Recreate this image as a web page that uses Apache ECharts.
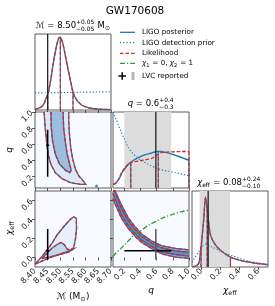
<!DOCTYPE html>
<html><head><meta charset="utf-8">
<script src="https://cdn.jsdelivr.net/npm/echarts@6/dist/echarts.min.js"></script>
<style>html,body{margin:0;padding:0;background:#fff}#c{width:275px;height:306px}</style>
</head><body><div id="c"></div>
<script>
// ---------------- data ----------------
const mcTicks = [8.40, 8.45, 8.50, 8.55, 8.60, 8.65, 8.70];
const qTicks = [0.2, 0.4, 0.6, 0.8, 1.0];
const chiTicks = [0.0, 0.2, 0.4, 0.6];
const mcRange = [8.40, 8.70];
const qRange = [0.06, 1.0];
const chiRange = [-0.1, 0.7];

// Mc 1D
const mcGrid = [8.40, 8.42, 8.433, 8.446, 8.4525, 8.462, 8.472, 8.483, 8.492, 8.499, 8.508, 8.518, 8.531, 8.545, 8.551, 8.565, 8.584, 8.61, 8.644, 8.70];
const mcPosterior = [0.01, 0.03, 0.066, 0.175, 0.228, 0.395, 0.614, 0.812, 0.93, 0.957, 0.90, 0.746, 0.526, 0.307, 0.22, 0.13, 0.066, 0.03, 0.013, 0.004];
const mcLikelihood = [0.01, 0.03, 0.066, 0.175, 0.228, 0.395, 0.614, 0.812, 0.93, 0.957, 0.90, 0.746, 0.526, 0.307, 0.22, 0.13, 0.066, 0.03, 0.013, 0.004];
const mcPriorGrid = [8.40, 8.55, 8.70];
const mcPrior = [0.225, 0.232, 0.24];
const mcQuantiles = [8.45, 8.50, 8.55];

// q 1D
const qGrid = [0.06, 0.08, 0.1, 0.14, 0.17, 0.21, 0.25, 0.3, 0.375, 0.45, 0.5, 0.55, 0.6, 0.65, 0.71, 0.77, 0.83, 0.9, 1.0];
const qPosterior = [0.05, 0.055, 0.07, 0.13, 0.2, 0.26, 0.31, 0.355, 0.40, 0.435, 0.45, 0.465, 0.48, 0.48, 0.468, 0.452, 0.43, 0.405, 0.365];
const qLikelihood = [0.05, 0.055, 0.07, 0.14, 0.21, 0.27, 0.32, 0.34, 0.355, 0.37, 0.38, 0.395, 0.43, 0.465, 0.47, 0.475, 0.477, 0.48, 0.48];
const qPriorGrid = [0.06, 0.07, 0.1, 0.13, 0.16, 0.19, 0.25, 0.3, 0.35, 0.42, 0.5, 0.58, 0.66, 0.75, 0.84, 0.92, 1.0];
const qPrior = [1.0, 0.97, 0.9, 0.82, 0.74, 0.67, 0.53, 0.46, 0.41, 0.355, 0.31, 0.27, 0.24, 0.22, 0.20, 0.18, 0.16];
const qQuantiles = [0.28, 0.62, 1.0];

// chi_eff 1D
const chiGrid = [-0.1, -0.063, -0.028, -0.01, 0.007, 0.024, 0.042, 0.055, 0.07, 0.095, 0.147, 0.218, 0.305, 0.43, 0.57, 0.7];
const chiPosterior = [0.005, 0.01, 0.05, 0.2, 0.4, 0.64, 0.92, 0.82, 0.64, 0.42, 0.29, 0.2, 0.13, 0.08, 0.05, 0.03];
const chiLikelihood = [0.005, 0.01, 0.05, 0.2, 0.4, 0.64, 0.92, 0.82, 0.64, 0.42, 0.29, 0.2, 0.13, 0.08, 0.05, 0.03];
const chiPriorGrid = [-0.1, -0.09, -0.03, 0.04, 0.1, 0.18, 0.25, 0.32, 0.46, 0.58, 0.7];
const chiPrior = [0.06, 0.08, 0.2, 0.3, 0.27, 0.22, 0.18, 0.15, 0.09, 0.055, 0.035];
const chiQuantiles = [-0.005, 0.06, 0.305];

// LVC reported
const lvcMc = 8.45, lvcMcLo = 8.444, lvcMcHi = 8.456;
const lvcQ = 0.59, lvcQLo = 0.2, lvcQHi = 0.78;
const lvcChi = 0.07, lvcChiLo = -0.02, lvcChiHi = 0.30;

// 2D contours: Mc - q
const mcqOuter = [[8.436,1.0],[8.44,0.81],[8.447,0.60],[8.453,0.46],[8.463,0.35],[8.48,0.25],[8.507,0.175],[8.54,0.125],[8.58,0.105],[8.60,0.105],[8.593,0.138],[8.573,0.209],[8.56,0.29],[8.549,0.416],[8.541,0.56],[8.536,0.73],[8.533,0.90],[8.533,1.0]];
const mcqInner = [[8.463,1.0],[8.464,0.81],[8.469,0.646],[8.48,0.479],[8.497,0.354],[8.52,0.279],[8.537,0.25],[8.543,0.279],[8.537,0.354],[8.527,0.479],[8.519,0.646],[8.513,0.81],[8.511,1.0]];
const mcqIsland = [[8.643, 0.085]];
// Mc - chi
const mccOuter = [[8.40,-0.07],[8.453,-0.008],[8.50,0.037],[8.533,0.066],[8.553,0.103],[8.56,0.202],[8.564,0.307],[8.563,0.413],[8.553,0.429],[8.537,0.395],[8.513,0.324],[8.487,0.237],[8.467,0.149],[8.447,0.079],[8.427,0.009],[8.407,-0.05],[8.40,-0.058]];
const mccInner = [[8.427,-0.011],[8.448,0.047],[8.468,0.10],[8.487,0.137],[8.503,0.158],[8.515,0.137],[8.527,0.089],[8.54,0.076],[8.548,0.084],[8.532,0.055],[8.50,0.032],[8.46,0.007],[8.427,-0.011]];
// q - chi band
const qcQ = [0.06, 0.084, 0.166, 0.25, 0.334, 0.416, 0.541, 0.666, 0.834, 1.0];
const qcOuterUp = [0.82, 0.748, 0.552, 0.415, 0.322, 0.247, 0.172, 0.122, 0.095, 0.08];
const qcOuterLo = [0.62, 0.568, 0.412, 0.305, 0.222, 0.157, 0.092, 0.038, 0.005, -0.01];
const qcInnerUp = [0.765, 0.698, 0.514, 0.385, 0.294, 0.222, 0.15, 0.10, 0.07, 0.055];
const qcInnerLo = [0.675, 0.618, 0.45, 0.335, 0.25, 0.182, 0.114, 0.06, 0.03, 0.015];
// chi1 = 0, chi2 = 1 curve
const greenQ = [0.06, 0.1, 0.2, 0.3, 0.4, 0.5, 0.6, 0.7, 0.8, 0.9, 1.0];
const greenChi = [0.01, 0.05, 0.13, 0.22, 0.28, 0.34, 0.385, 0.425, 0.455, 0.48, 0.5];

// ---------------- styling ----------------
const BLUE = '#1f77b4', RED = '#d62728', GREEN = '#2ca02c', BAND = '#dcdcdc';
const FONT = '"DejaVu Sans"';
const W = 76;
const cols = [35, 113, 192], rows = [34, 112, 191];
const panels = [[0,0,false],[0,1,true],[1,1,false],[0,2,true],[1,2,true],[2,2,false]];

const zip = (a, b) => a.map((v, i) => [v, b[i]]);
function interp(xs, ys, x) {
  if (x <= xs[0]) return ys[0];
  for (let i = 1; i < xs.length; i++) if (x <= xs[i]) {
    const t = (x - xs[i-1]) / (xs[i] - xs[i-1]); return ys[i-1] + t * (ys[i] - ys[i-1]);
  }
  return ys[ys.length-1];
}

const grids = panels.map(([c, r, two]) => ({left: cols[c], top: rows[r], width: W, height: W, show: true,
  borderColor: '#333', borderWidth: 0.8, backgroundColor: two ? '#f7fbff' : '#ffffff'}));

function axis(gi, range, ticks, lab, d) {
  return {type: 'value', gridIndex: gi, min: range[0], max: range[1],
    axisLine: {show: false}, splitLine: {show: false},
    axisTick: {show: !!ticks, length: 3, lineStyle: {color: '#333', width: 0.8}, customValues: ticks || undefined},
    axisLabel: {show: !!lab, rotate: 45, fontSize: 8, color: '#222', fontFamily: 'DejaVu Sans', margin: 3,
      customValues: ticks || undefined, formatter: v => Number(v).toFixed(d)}};
}
const xAxes = [
  axis(0, mcRange, mcTicks, false, 2), axis(1, mcRange, mcTicks, false, 2), axis(2, qRange, qTicks, false, 1),
  axis(3, mcRange, mcTicks, true, 2), axis(4, qRange, qTicks, true, 1), axis(5, chiRange, chiTicks, true, 1)];
const yAxes = [
  axis(0, [0, 1], null, false, 1), axis(1, qRange, qTicks, true, 1), axis(2, [0, 1], null, false, 1),
  axis(3, chiRange, chiTicks, true, 1), axis(4, chiRange, chiTicks, false, 1), axis(5, [0, 1], null, false, 1)];

function lineS(i, data, color, width, type, smooth, z) {
  return {type: 'line', xAxisIndex: i, yAxisIndex: i, data, symbol: 'none', smooth: smooth || false,
    lineStyle: {color, width, type: type || 'solid'}, z: z || 3, silent: true};
}
function polyS(i, pts, kind, style, z) {
  return {type: 'custom', xAxisIndex: i, yAxisIndex: i, data: pts, z: z || 2, silent: true,
    renderItem: (params, api) => {
      if (params.dataIndex !== 0) return null;
      let P = pts.map(p => api.coord(p));
      P = echarts.graphic.clipPointsByRect(P, params.coordSys);
      return {type: kind, shape: {points: P}, style};
    }};
}
function bandS(i, lo, hi) {
  return {type: 'custom', xAxisIndex: i, yAxisIndex: i, data: [[lo, hi]], z: 1, silent: true,
    renderItem: (params, api) => {
      const a = api.coord([api.value(0), 1]); const b = api.coord([api.value(1), 0]);
      return {type: 'rect', shape: {x: a[0], y: a[1], width: b[0] - a[0], height: b[1] - a[1]}, style: {fill: BAND}};
    }};
}
const DASH = [3.5, 2], DOT = [1.2, 2], DASHDOT = [5, 2, 1.2, 2];
const strokeBlue = {stroke: BLUE, lineWidth: 1.3, fill: 'none'};
const strokeRed = {stroke: RED, lineWidth: 1.3, lineDash: DASH, fill: 'none'};

const series = [];
function oneD(i, grid, post, like, pgrid, prior, quants, lvc, lo, hi) {
  if (lo !== undefined) series.push(bandS(i, lo, hi));
  series.push(lineS(i, [[lvc, 0], [lvc, 1]], '#222', 1.3, 'solid', false, 6));
  series.push(lineS(i, zip(pgrid, prior), BLUE, 1.2, DOT, 0.3, 3));
  series.push(lineS(i, zip(grid, post), BLUE, 1.4, 'solid', 0.25, 4));
  series.push(lineS(i, zip(grid, like), RED, 1.3, DASH, 0.25, 5));
  quants.forEach(q => {
    series.push(lineS(i, [[q, 0], [q, interp(grid, post, q)]], BLUE, 1.1, 'solid', false, 4));
    series.push(lineS(i, [[q, 0], [q, interp(grid, like, q)]], RED, 1.2, DASH, false, 5));
  });
}
oneD(0, mcGrid, mcPosterior, mcLikelihood, mcPriorGrid, mcPrior, mcQuantiles, lvcMc);
oneD(2, qGrid, qPosterior, qLikelihood, qPriorGrid, qPrior, qQuantiles, lvcQ, lvcQLo, lvcQHi);
oneD(5, chiGrid, chiPosterior, chiLikelihood, chiPriorGrid, chiPrior, chiQuantiles, lvcChi, lvcChiLo, lvcChiHi);

// Mc - q
series.push(polyS(1, mcqOuter, 'polygon', {fill: '#dce8f5'}, 2));
series.push(polyS(1, mcqInner, 'polygon', {fill: '#9dbde0'}, 2));
series.push(polyS(1, mcqOuter, 'polyline', strokeBlue, 3));
series.push(polyS(1, mcqInner, 'polyline', strokeBlue, 3));
series.push(polyS(1, mcqOuter, 'polyline', strokeRed, 4));
series.push(polyS(1, mcqInner, 'polyline', strokeRed, 4));
series.push({type: 'scatter', xAxisIndex: 1, yAxisIndex: 1, data: mcqIsland, symbolSize: 3, itemStyle: {color: BLUE}, z: 4, silent: true});
series.push(lineS(1, [[lvcMc, lvcQLo], [lvcMc, lvcQHi]], '#000', 1.5, 'solid', false, 6));
series.push(lineS(1, [[lvcMcLo, lvcQ], [lvcMcHi, lvcQ]], '#000', 1.5, 'solid', false, 6));

// Mc - chi
series.push(polyS(3, mccOuter, 'polygon', {fill: '#e8f0f9'}, 2));
series.push(polyS(3, mccInner, 'polygon', {fill: '#c3d8ec'}, 2));
series.push(polyS(3, mccOuter, 'polyline', strokeBlue, 3));
series.push(polyS(3, mccInner, 'polyline', strokeBlue, 3));
series.push(polyS(3, mccOuter, 'polyline', strokeRed, 4));
series.push(polyS(3, mccInner, 'polyline', strokeRed, 4));
series.push(lineS(3, [[lvcMc, lvcChiLo], [lvcMc, lvcChiHi]], '#000', 1.5, 'solid', false, 6));
series.push(lineS(3, [[lvcMcLo, lvcChi], [lvcMcHi, lvcChi]], '#000', 1.5, 'solid', false, 6));

// q - chi
const qcOuterPoly = zip(qcQ, qcOuterUp).concat(zip(qcQ, qcOuterLo).reverse());
const qcInnerPoly = zip(qcQ, qcInnerUp).concat(zip(qcQ, qcInnerLo).reverse());
series.push(polyS(4, qcOuterPoly, 'polygon', {fill: '#8fb4dc'}, 2));
series.push(polyS(4, qcInnerPoly, 'polygon', {fill: '#5a92cb'}, 2));
[qcOuterUp, qcInnerUp, qcInnerLo, qcOuterLo].forEach(e => {
  series.push(polyS(4, zip(qcQ, e), 'polyline', strokeBlue, 3));
  series.push(polyS(4, zip(qcQ, e), 'polyline', strokeRed, 4));
});
series.push(lineS(4, zip(greenQ, greenChi), GREEN, 1.3, DASHDOT, 0.3, 5));
series.push(lineS(4, [[lvcQLo, lvcChi], [lvcQHi, lvcChi]], '#000', 1.5, 'solid', false, 6));
series.push(lineS(4, [[lvcQ, lvcChiLo], [lvcQ, lvcChiHi]], '#555', 1.5, 'solid', false, 6));

// ---------------- text ----------------
const mctx = document.createElement('canvas').getContext('2d');
function tw(s, size, it) { mctx.font = (it ? 'italic ' : '') + size + 'px ' + FONT; return mctx.measureText(s).width; }
function mathText(x, y, parts, size, align, rotation) {
  const ss = size * 0.7; let cx = 0; const items = [];
  parts.forEach(p => {
    if (p.t !== undefined) { items.push({s: p.t, x: cx, dy: 0, size, it: p.it}); cx += tw(p.t, size, p.it); }
    else {
      let w = 0;
      if (p.sup) { items.push({s: p.sup, x: cx, dy: -0.38 * size, size: ss}); w = Math.max(w, tw(p.sup, ss)); }
      if (p.sub) { items.push({s: p.sub, x: cx, dy: (p.sup ? 0.36 : 0.3) * size, size: ss}); w = Math.max(w, tw(p.sub, ss)); }
      cx += w + 0.6;
    }
  });
  const off = align === 'center' ? -cx / 2 : 0;
  return {type: 'group', x, y, rotation: rotation || 0, silent: true,
    children: items.map(it => ({type: 'text', x: it.x + off, y: it.dy,
      style: {text: it.s, fill: '#000', font: (it.it ? 'italic ' : '') + it.size + 'px ' + FONT,
        fontSize: it.size, fontFamily: 'DejaVu Sans', fontStyle: it.it ? 'italic' : 'normal',
        textAlign: 'left', align: 'left', textVerticalAlign: 'middle', verticalAlign: 'middle'}}))};
}

const graphics = [];
graphics.push(mathText(135, 11, [{t: 'GW170608'}], 10.5, 'center'));
graphics.push(mathText(73, 26, [{t: 'ℳ'}, {t: ' = 8.50'}, {sup: '+0.05', sub: '−0.05'}, {t: ' M'}, {sub: '⊙'}], 8.5, 'center'));
graphics.push(mathText(151, 104, [{t: 'q', it: true}, {t: ' = 0.6'}, {sup: '+0.4', sub: '−0.3'}], 8.5, 'center'));
graphics.push(mathText(229, 183, [{t: 'χ', it: true}, {sub: 'eff'}, {t: ' = 0.08'}, {sup: '+0.24', sub: '−0.10'}], 8.5, 'center'));
graphics.push(mathText(73, 297, [{t: 'ℳ (M'}, {sub: '⊙'}, {t: ')'}], 9, 'center'));
graphics.push(mathText(151, 291, [{t: 'q', it: true}], 9, 'center'));
graphics.push(mathText(230, 291, [{t: 'χ', it: true}, {sub: 'eff'}], 9, 'center'));
graphics.push(mathText(10, 150, [{t: 'q', it: true}], 9, 'center', Math.PI / 2));
graphics.push(mathText(10, 228, [{t: 'χ', it: true}, {sub: 'eff'}], 9, 'center', Math.PI / 2));

const legendRows = [
  {y: 32.3, label: [{t: 'LIGO posterior'}], stroke: BLUE, dash: null},
  {y: 42.7, label: [{t: 'LIGO detection prior'}], stroke: BLUE, dash: DOT},
  {y: 53.3, label: [{t: 'Likelihood'}], stroke: RED, dash: DASH},
  {y: 63.3, label: [{t: 'χ', it: true}, {sub: '1'}, {t: ' = 0, '}, {t: 'χ', it: true}, {sub: '2'}, {t: ' = 1'}], stroke: GREEN, dash: DASHDOT},
  {y: 76, label: [{t: 'LVC reported'}], lvc: true}
];
legendRows.forEach(r => {
  if (r.lvc) {
    graphics.push({type: 'line', silent: true, shape: {x1: 118.5, y1: r.y, x2: 126, y2: r.y}, style: {stroke: '#000', lineWidth: 1.5}});
    graphics.push({type: 'line', silent: true, shape: {x1: 122.2, y1: r.y - 3.8, x2: 122.2, y2: r.y + 3.8}, style: {stroke: '#000', lineWidth: 1.5}});
    graphics.push({type: 'rect', silent: true, shape: {x: 131.5, y: r.y - 4, width: 3, height: 8}, style: {fill: '#b5b5b5'}});
  } else {
    graphics.push({type: 'line', silent: true, shape: {x1: 120, y1: r.y, x2: 135, y2: r.y},
      style: {stroke: r.stroke, lineWidth: 1.3, lineDash: r.dash || null}});
  }
  graphics.push(mathText(142, r.y, r.label, 7.2, 'left'));
});

const chart = echarts.init(document.getElementById('c'), null, {renderer: 'canvas', devicePixelRatio: 1});
chart.setOption({animation: false, backgroundColor: '#fff', grid: grids, xAxis: xAxes, yAxis: yAxes, series,
  graphic: {elements: graphics}});
</script></body></html>
